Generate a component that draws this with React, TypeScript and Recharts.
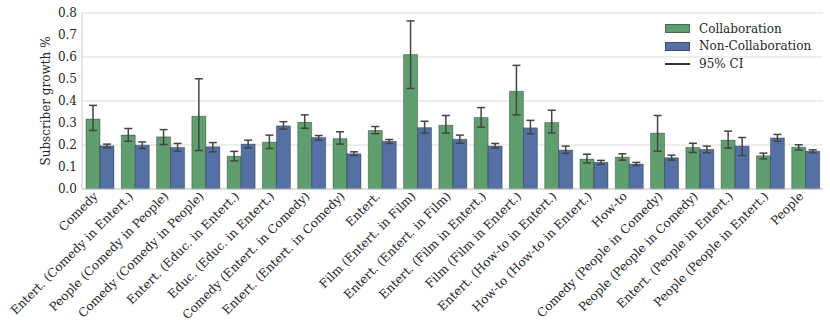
import { BarChart, Bar, XAxis, YAxis, CartesianGrid, ErrorBar } from "recharts";

const categories = [
  "Comedy",
  "Entert. (Comedy in Entert.)",
  "People (Comedy in People)",
  "Comedy (Comedy in People)",
  "Entert. (Educ. in Entert.)",
  "Educ. (Educ. in Entert.)",
  "Comedy (Entert. in Comedy)",
  "Entert. (Entert. in Comedy)",
  "Entert.",
  "Film (Entert. in Film)",
  "Entert. (Entert. in Film)",
  "Entert. (Film in Entert.)",
  "Film (Film in Entert.)",
  "Entert. (How-to in Entert.)",
  "How-to (How-to in Entert.)",
  "How-to",
  "Comedy (People in Comedy)",
  "People (People in Comedy)",
  "Entert. (People in Entert.)",
  "People (People in Entert.)",
  "People",
];

// mean growth + 95% CI bounds
const collab = [0.318, 0.245, 0.237, 0.331, 0.149, 0.213, 0.303, 0.229, 0.266, 0.611, 0.29, 0.325, 0.444, 0.302, 0.136, 0.145, 0.254, 0.189, 0.222, 0.151, 0.19];
const collabLow = [0.266, 0.217, 0.202, 0.175, 0.128, 0.184, 0.276, 0.204, 0.251, 0.457, 0.254, 0.281, 0.337, 0.255, 0.118, 0.131, 0.172, 0.166, 0.186, 0.137, 0.177];
const collabHigh = [0.38, 0.275, 0.27, 0.501, 0.171, 0.245, 0.337, 0.26, 0.284, 0.764, 0.334, 0.37, 0.562, 0.358, 0.158, 0.16, 0.334, 0.208, 0.263, 0.163, 0.201];

const nonCollab = [0.196, 0.199, 0.189, 0.192, 0.204, 0.287, 0.234, 0.16, 0.217, 0.279, 0.226, 0.195, 0.278, 0.177, 0.121, 0.113, 0.142, 0.18, 0.195, 0.232, 0.172];
const nonCollabLow = [0.187, 0.184, 0.172, 0.169, 0.187, 0.272, 0.222, 0.152, 0.207, 0.254, 0.208, 0.186, 0.251, 0.162, 0.112, 0.107, 0.131, 0.165, 0.152, 0.217, 0.165];
const nonCollabHigh = [0.204, 0.214, 0.207, 0.211, 0.222, 0.306, 0.243, 0.169, 0.225, 0.308, 0.245, 0.207, 0.312, 0.195, 0.13, 0.121, 0.154, 0.195, 0.234, 0.248, 0.178];

const yTicks = [0, 0.1, 0.2, 0.3, 0.4, 0.5, 0.6, 0.7, 0.8];

const data = categories.map((name, i) => ({
  name,
  collab: collab[i],
  collabErr: [collab[i] - collabLow[i], collabHigh[i] - collab[i]],
  nonCollab: nonCollab[i],
  nonCollabErr: [nonCollab[i] - nonCollabLow[i], nonCollabHigh[i] - nonCollab[i]],
}));

const FONT = "DejaVu Serif";
const TEXT = "#262626";
const GREEN = "#5f9e6e";
const BLUE = "#5470a5";

const AngledTick = ({ x, y, payload }: any) => {
  const ax = x - 1;
  const ay = y + 6;
  return (
    <text
      x={ax}
      y={ay}
      transform={`rotate(-45, ${ax}, ${ay})`}
      textAnchor="end"
      fontSize={12}
      fontFamily={FONT}
      fill={TEXT}
    >
      {payload.value}
    </text>
  );
};

function LegendBox() {
  const rows = [
    { label: "Collaboration", color: GREEN, kind: "box" },
    { label: "Non-Collaboration", color: BLUE, kind: "box" },
    { label: "95% CI", color: "#333", kind: "line" },
  ];
  return (
    <div style={{ position: "absolute", left: 665, top: 20, fontFamily: FONT, fontSize: 12, color: TEXT }}>
      {rows.map((r) => (
        <div key={r.label} style={{ display: "flex", alignItems: "center", height: 17.5 }}>
          {r.kind === "box" ? (
            <div style={{ width: 25, height: 9, background: r.color, border: "1px solid rgba(0,0,0,0.3)", boxSizing: "border-box" }} />
          ) : (
            <div style={{ width: 25, height: 1.5, background: r.color }} />
          )}
          <span style={{ marginLeft: 9 }}>{r.label}</span>
        </div>
      ))}
    </div>
  );
}

export default function App() {
  return (
    <div style={{ position: "absolute", left: 0, top: 0, width: 830, height: 334, background: "#fff" }}>
      <BarChart
        width={830}
        height={334}
        data={data}
        margin={{ top: 13, right: 7, bottom: 0, left: 0 }}
        barSize={14}
        barGap={0}
      >
        <CartesianGrid vertical={false} stroke="#dddddd" strokeWidth={1.2} />
        <XAxis
          dataKey="name"
          interval={0}
          height={145}
          tick={<AngledTick />}
          tickLine={false}
          tickSize={0}
          axisLine={{ stroke: "#cccccc" }}
        />
        <YAxis
          width={82}
          domain={[0, 0.8]}
          ticks={yTicks}
          tickFormatter={(v: number) => v.toFixed(1)}
          tickLine={false}
          tickSize={3}
          tickMargin={2}
          axisLine={{ stroke: "#cccccc" }}
          tick={{ fontSize: 12, fontFamily: FONT, fill: TEXT }}
          label={{
            value: "Subscriber growth %",
            angle: -90,
            position: "center",
            dx: 5,
            style: { fontSize: 12, fontFamily: FONT, fill: TEXT, textAnchor: "middle" },
          }}
        />
        <Bar dataKey="collab" fill={GREEN} stroke="rgba(0,0,0,0.3)" strokeWidth={1} isAnimationActive={false}>
          <ErrorBar dataKey="collabErr" width={4} stroke="#444" strokeWidth={1.5} direction="y" />
        </Bar>
        <Bar dataKey="nonCollab" fill={BLUE} stroke="rgba(0,0,0,0.3)" strokeWidth={1} isAnimationActive={false}>
          <ErrorBar dataKey="nonCollabErr" width={4} stroke="#444" strokeWidth={1.5} direction="y" />
        </Bar>
      </BarChart>
      <LegendBox />
    </div>
  );
}
